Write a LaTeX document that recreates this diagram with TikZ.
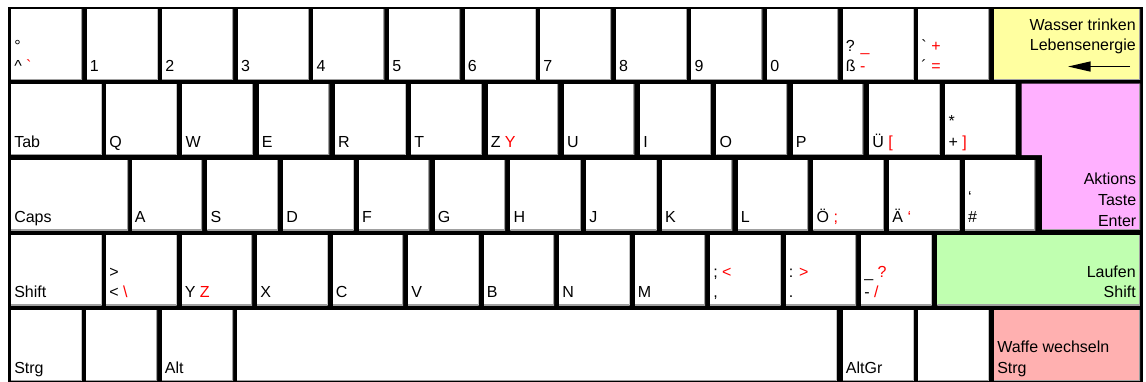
\documentclass[tikz,border=0pt]{standalone}
\usepackage{fontspec}
\setmainfont{Liberation Sans}[Ligatures=TeXOff]
\usetikzlibrary{arrows.meta}

\definecolor{edgegray}{HTML}{A0A0A0}
\definecolor{waterkey}{HTML}{FFFFA0}
\definecolor{actionkey}{HTML}{FFB0FF}
\definecolor{runkey}{HTML}{C0FFB0}
\definecolor{weaponkey}{HTML}{FFB0B0}
\newcommand\rk[1]{\textcolor{red}{#1}}

\begin{document}
\begin{tikzpicture}[x=0.75pt,y=-0.75pt,
  key/.style={fill=white,anchor=north west,inner sep=0pt,outer sep=0pt,
    minimum width=53.25pt,minimum height=52.9pt,
    path picture={\draw[edgegray,line width=1.5pt]
      (path picture bounding box.north east) -- (path picture bounding box.south east)
      -- (path picture bounding box.south west);}},
  lbl/.style={anchor=base west,inner sep=0pt,font=\fontsize{12}{14}\selectfont},
  rlbl/.style={anchor=base east,inner sep=0pt,font=\fontsize{12}{14}\selectfont}]
\useasboundingbox (0,0) rectangle (1146,382);
\fill (8,6.5) rectangle (1143,382);

% row 1
\foreach \lo/\up [count=\i from 0] in {{\char"5E{} \rk{`}}/{°},1/{},2/{},3/{},4/{},5/{},6/{},7/{},8/{},9/{},0/{},
    {ß \rk{-}}/{? \rk{\_}},{´ \rk{=}}/{` \rk{+}}} {
  \node[key] (a\i) at (11+75.6*\i,9) {};
  \node[lbl] at ([shift={(3,-8)}]a\i.south west) {\lo};
  \node[lbl] at ([shift={(3,-28.5)}]a\i.south west) {\up};
}
\node[key,fill=waterkey,minimum width=109.5pt] (back) at (994,9) {};
\node[rlbl] at ([shift={(-4,21)}]back.north east) {Wasser trinken};
\node[rlbl] at ([shift={(-4,41)}]back.north east) {Lebensenergie};
\coordinate (drinkS) at ([shift={(-10,-13)}]back.south east);
\coordinate (drinkE) at ([shift={(-72,-13)}]back.south east);
\draw[-{Triangle[length=17pt,width=7.5pt]},line width=1.1pt] (drinkS) -- (drinkE);

% row 2
\node[key,minimum width=68pt] (tab) at (11,84.25) {};
\node[lbl] at ([shift={(3,-7.5)}]tab.south west) {Tab};
\foreach \lo/\up [count=\i from 0] in {Q/{},W/{},E/{},R/{},T/{},{Z \rk{Y}}/{},U/{},I/{},O/{},P/{},
    {Ü \rk{[}}/{},{+ \rk{]}}/*} {
  \node[key,minimum width=53pt] (b\i) at (106+76.3*\i,84.25) {};
  \node[lbl] at ([shift={(3,-7.5)}]b\i.south west) {\lo};
  \node[lbl] at ([shift={(3,-28)}]b\i.south west) {\up};
}
\fill[actionkey] (1021.7,83.5) -- (1140,83.5) -- (1140,229.8) -- (1042,229.8) -- (1042,155) -- (1021.7,155) -- cycle;
\draw[edgegray,line width=0.75pt] (1139.5,83.5) -- (1139.5,229.3) -- (1042,229.3);
\node[rlbl] (act1) at (1136.5,184) {Aktions};
\node[rlbl] (act2) at (1136.5,205) {Taste};
\node[rlbl] (act3) at (1136.5,226) {Enter};

% row 3
\node[key,minimum width=87.75pt] (caps) at (11,159.5) {};
\node[lbl] at ([shift={(3,-7.5)}]caps.south west) {Caps};
\foreach \lo/\up [count=\i from 0] in {A/{},S/{},D/{},F/{},G/{},H/{},J/{},K/{},L/{},
    {Ö \rk{;}}/{},{Ä \rk{‘}}/{},\#/‘} {
  \node[key,minimum width=52.9pt] (c\i) at (131.7+75.75*\i,159.5) {};
  \node[lbl] at ([shift={(3,-7.5)}]c\i.south west) {\lo};
  \node[lbl] at ([shift={(3,-28)}]c\i.south west) {\up};
}

% row 4
\node[key,minimum width=68pt] (lshift) at (11,234.75) {};
\node[lbl] at ([shift={(3,-7.5)}]lshift.south west) {Shift};
\foreach \lo/\up [count=\i from 0] in {{< \rk{\char"5C}}/>,{Y \rk{Z}}/{},X/{},C/{},V/{},B/{},N/{},M/{},
    {,}/{; \rk{<}},./{: \rk{>}},{- \rk{/}}/{\_ \rk{?}}} {
  \node[key,minimum width=53pt] (d\i) at (106+75.5*\i,234.75) {};
  \node[lbl] at ([shift={(3,-7.5)}]d\i.south west) {\lo};
  \node[lbl] at ([shift={(3,-28)}]d\i.south west) {\up};
}
\node[key,fill=runkey,minimum width=152pt] (rshift) at (937.3,234.75) {};
\node[rlbl] at ([shift={(-4,-7.5)}]rshift.south east) {Shift};
\node[rlbl] at ([shift={(-4,-28)}]rshift.south east) {Laufen};

% row 5
\foreach \x/\w/\t [count=\i] in {11/70.7/Strg,85.7/71.3/{},161.7/71.3/Alt,237/599.5/{},
    842.7/70.8/AltGr,918.3/70.2/{}} {
  \node[key,minimum width={\w*0.75pt}] (e\i) at (\x,310) {};
  \node[lbl] at ([shift={(3,-7)}]e\i.south west) {\t};
}
\node[key,fill=weaponkey,minimum width=109.5pt] (rctrl) at (994,310) {};
\node[lbl] at ([shift={(3,-7)}]rctrl.south west) {Strg};
\node[lbl] at ([shift={(3,-28)}]rctrl.south west) {Waffe wechseln};
\end{tikzpicture}
\end{document}
